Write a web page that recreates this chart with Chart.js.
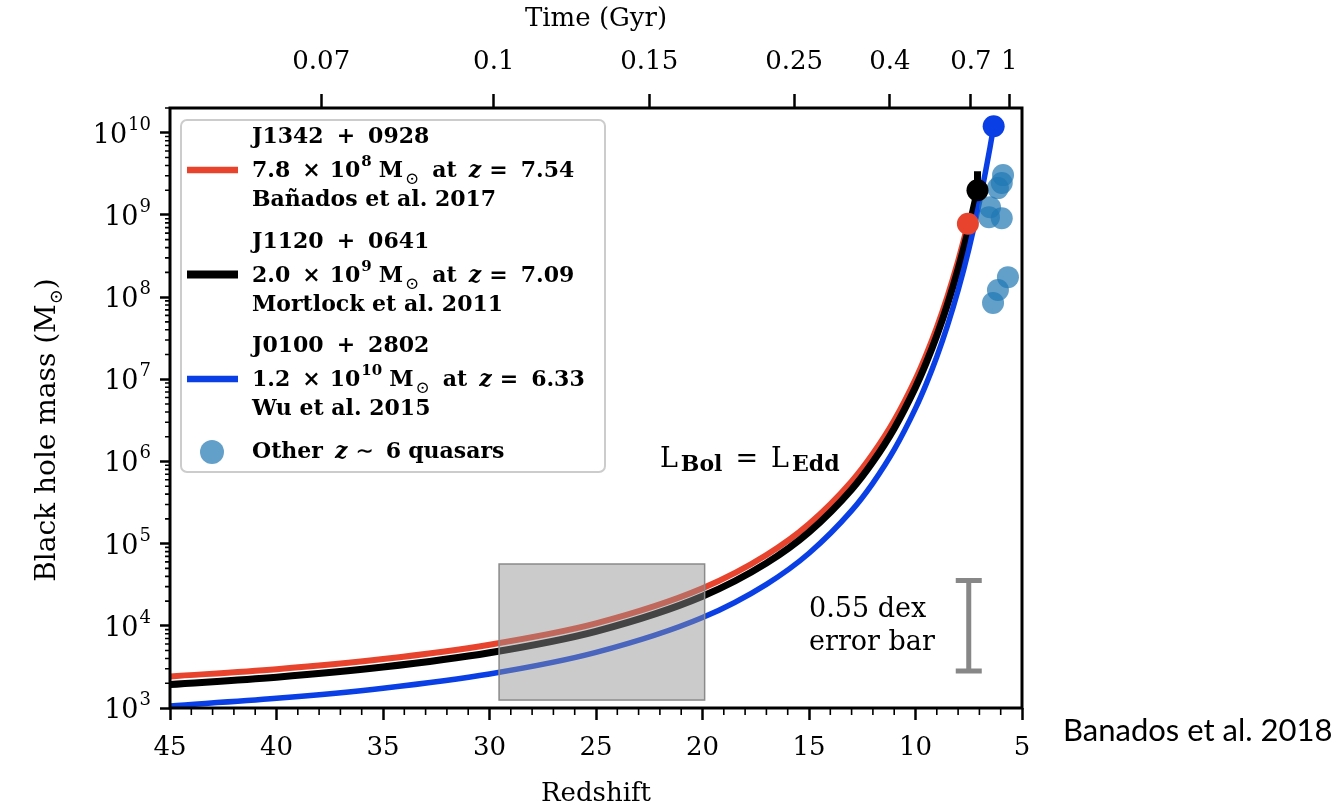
<!DOCTYPE html>
<html>
<head>
<meta charset="utf-8">
<title>Black hole growth</title>
<script src="https://cdn.jsdelivr.net/npm/chart.js@4/dist/chart.umd.min.js"></script>
<style>
  html, body { margin: 0; padding: 0; background: #fff; }
  canvas { display: block; }
</style>
</head>
<body>
<canvas id="bhChart" width="1339" height="810"></canvas>
<script>
// Eddington-limited growth tracks: redshift vs black hole mass (Msun)
const j1342Redshift = [45, 40, 35, 30, 25, 20, 17, 15, 13, 12, 11, 10, 9.5, 9, 8.5, 8, 7.75, 7.54];
const j1342Mass = [2.42e3, 2.97e3, 3.94e3, 5.89e3, 1.07e4, 2.86e4, 7.26e4, 1.73e5, 5.71e5, 1.24e6, 3.15e6, 1.0e7, 1.98e7, 4.26e7, 1.02e8, 2.75e8, 4.77e8, 7.8e8];

const j1120Redshift = [45, 40, 35, 30, 25, 20, 17, 15, 13, 12, 11, 10, 9.5, 9, 8.5, 8, 7.54, 7.3, 7.09];
const j1120Mass = [1.93e3, 2.37e3, 3.15e3, 4.70e3, 8.57e3, 2.29e4, 5.79e4, 1.38e5, 4.56e5, 9.9e5, 2.52e6, 8.0e6, 1.58e7, 3.40e7, 8.13e7, 2.19e8, 6.22e8, 1.14e9, 2.0e9];

const j0100Redshift = [45, 40, 35, 30, 25, 20, 17, 15, 13, 12, 11, 10, 9.5, 9, 8.5, 8, 7.5, 7, 6.7, 6.5, 6.33];
const j0100Mass = [1.06e3, 1.31e3, 1.74e3, 2.59e3, 4.74e3, 1.26e4, 3.20e4, 7.64e4, 2.52e5, 5.46e5, 1.39e6, 4.42e6, 8.73e6, 1.88e7, 4.49e7, 1.21e8, 3.79e8, 1.42e9, 3.49e9, 6.68e9, 1.2e10];

// The three record quasars
const quasarNames = ['J1342 + 0928', 'J1120 + 0641', 'J0100 + 2802'];
const quasarRefs = ['Bañados et al. 2017', 'Mortlock et al. 2011', 'Wu et al. 2015'];
const quasarRedshift = [7.54, 7.09, 6.33];
const quasarMass = [7.8e8, 2.0e9, 1.2e10];
const quasarColors = ['#e8442d', '#000000', '#0a3fe6'];
const j1120MassRange = [1.3e9, 3.4e9];

// Other z ~ 6 quasars
const otherRedshift = [5.89, 5.95, 6.13, 6.50, 6.55, 5.95, 5.66, 6.13, 6.36];
const otherMass = [3.05e9, 2.44e9, 2.12e9, 1.24e9, 9.4e8, 9.1e8, 1.75e8, 1.22e8, 8.5e7];

// Shaded seed region
const seedRedshift = [29.55, 19.9];
const seedMass = [1.25e3, 5.65e4];

// Typical mass uncertainty
const errorBarRedshift = 7.5;
const errorBarMass = 1.0e4;
const errorBarDex = 0.55;

// Axis ticks
const redshiftTicks = [45, 40, 35, 30, 25, 20, 15, 10, 5];
const massTickExponents = [3, 4, 5, 6, 7, 8, 9, 10];
const timeTickLabels = ['0.07', '0.1', '0.15', '0.25', '0.4', '0.7', '1'];
const timeTickRedshift = [37.9, 29.8, 22.5, 15.7, 11.2, 7.4, 5.6];

const SERIF = '"DejaVu Serif", "Liberation Serif", serif';

function toPoints(xs, ys) {
    return xs.map((x, i) => ({ x: x, y: ys[i] }));
}

// Draw a run of text pieces, each with its own size / offset / style / trailing gap
function drawPieces(ctx, x, y, pieces) {
    let cx = x;
    pieces.forEach(p => {
        ctx.font = (p.style || '') + ' ' + p.size + 'px ' + SERIF;
        ctx.fillText(p.text, cx, y + (p.dy || 0));
        cx += ctx.measureText(p.text).width + (p.gap || 0);
    });
    return cx;
}

function piecesWidth(ctx, pieces) {
    let w = 0;
    pieces.forEach(p => {
        ctx.font = (p.style || '') + ' ' + p.size + 'px ' + SERIF;
        w += ctx.measureText(p.text).width + (p.gap || 0);
    });
    return w;
}

const LEG = 22;

function namePieces(name) {
    const parts = name.split(' + ');
    return [
        { text: parts[0], size: LEG, style: 'bold', gap: 13 },
        { text: '+', size: LEG, style: 'bold', gap: 13 },
        { text: parts[1], size: LEG, style: 'bold' }
    ];
}

function massPieces(mass, z) {
    const exp = Math.floor(Math.log10(mass));
    const mant = (mass / Math.pow(10, exp)).toFixed(1);
    return [
        { text: mant, size: LEG, style: 'bold', gap: 12 },
        { text: '×', size: LEG, style: 'bold', gap: 9 },
        { text: '10', size: LEG, style: 'bold', gap: 1 },
        { text: String(exp), size: 15, style: 'bold', dy: -11, gap: 7 },
        { text: 'M', size: LEG, style: 'bold', gap: 2 },
        { text: '⊙', size: 17, dy: 7, gap: 13 },
        { text: 'at', size: LEG, style: 'bold', gap: 12 },
        { text: 'z', size: LEG, style: 'italic bold', gap: 8 },
        { text: '=', size: LEG, style: 'bold', gap: 13 },
        { text: z.toFixed(2), size: LEG, style: 'bold' }
    ];
}

const bhDecorations = {
    id: 'bhDecorations',
    beforeDatasetsDraw(chart) {
        const { ctx, scales: { x, y } } = chart;
        // J1120 mass uncertainty
        ctx.save();
        ctx.strokeStyle = '#000';
        ctx.lineWidth = 7;
        const px = x.getPixelForValue(quasarRedshift[1]);
        ctx.beginPath();
        ctx.moveTo(px, y.getPixelForValue(j1120MassRange[0]));
        ctx.lineTo(px, y.getPixelForValue(j1120MassRange[1]));
        ctx.stroke();
        ctx.restore();
    },
    afterDatasetsDraw(chart) {
        const { ctx, scales: { x, y } } = chart;
        ctx.save();
        // seed box
        const bx1 = x.getPixelForValue(seedRedshift[0]);
        const bx2 = x.getPixelForValue(seedRedshift[1]);
        const by1 = y.getPixelForValue(seedMass[1]);
        const by2 = y.getPixelForValue(seedMass[0]);
        ctx.fillStyle = 'rgba(145,145,145,0.47)';
        ctx.fillRect(bx1, by1, bx2 - bx1, by2 - by1);
        ctx.strokeStyle = '#8a8a8a';
        ctx.lineWidth = 1.5;
        ctx.strokeRect(bx1, by1, bx2 - bx1, by2 - by1);

        // error bar
        const ex = x.getPixelForValue(errorBarRedshift);
        const eTop = y.getPixelForValue(errorBarMass * Math.pow(10, errorBarDex));
        const eBot = y.getPixelForValue(errorBarMass / Math.pow(10, errorBarDex));
        ctx.strokeStyle = '#878787';
        ctx.lineWidth = 5;
        ctx.beginPath();
        ctx.moveTo(ex, eTop); ctx.lineTo(ex, eBot);
        ctx.moveTo(ex - 13, eTop); ctx.lineTo(ex + 13, eTop);
        ctx.moveTo(ex - 13, eBot); ctx.lineTo(ex + 13, eBot);
        ctx.stroke();
        ctx.restore();
    },
    afterDraw(chart) {
        const { ctx, chartArea: a, scales: { x, y } } = chart;
        ctx.save();
        ctx.fillStyle = '#000';
        ctx.textBaseline = 'alphabetic';
        ctx.textAlign = 'left';

        // minor ticks
        ctx.strokeStyle = '#000';
        ctx.lineWidth = 1.6;
        ctx.beginPath();
        for (let z = 6; z < 45; z++) {
            if (z % 5 === 0) continue;
            const px = x.getPixelForValue(z);
            ctx.moveTo(px, a.bottom); ctx.lineTo(px, a.bottom + 7);
        }
        massTickExponents.forEach(e => {
            for (let m = 2; m <= 9; m++) {
                const v = m * Math.pow(10, e);
                if (v > y.max) break;
                const py = y.getPixelForValue(v);
                ctx.moveTo(a.left - 5, py); ctx.lineTo(a.left, py);
            }
        });
        ctx.stroke();

        // frame
        ctx.lineWidth = 3;
        ctx.strokeRect(a.left, a.top, a.right - a.left, a.bottom - a.top);

        // y tick labels with superscripts
        massTickExponents.forEach(e => {
            const py = y.getPixelForValue(Math.pow(10, e));
            const pieces = [
                { text: '10', size: 27, gap: 1 },
                { text: String(e), size: 18, dy: -13 }
            ];
            const w = piecesWidth(ctx, pieces);
            drawPieces(ctx, a.left - 19 - w, py + 10, pieces);
        });

        // y title
        const titlePieces = [
            { text: 'Black hole mass (M', size: 28 },
            { text: '⊙', size: 18, dy: 7 },
            { text: ')', size: 28 }
        ];
        const tw = piecesWidth(ctx, titlePieces);
        ctx.save();
        ctx.translate(55, (a.top + a.bottom) / 2 + 22);
        ctx.rotate(-Math.PI / 2);
        drawPieces(ctx, -tw / 2, 0, titlePieces);
        ctx.restore();

        // Eddington label
        drawPieces(ctx, x.getPixelForValue(22.0), y.getPixelForValue(8.5e5), [
            { text: 'L', size: 27, gap: 3 },
            { text: 'Bol', size: 22, style: 'bold', dy: 4, gap: 13 },
            { text: '=', size: 27, gap: 13 },
            { text: 'L', size: 27, gap: 3 },
            { text: 'Edd', size: 22, style: 'bold', dy: 4 }
        ]);

        // error bar caption
        ctx.font = '27px ' + SERIF;
        const cx = x.getPixelForValue(15.0);
        ctx.fillText('0.55 dex', cx, y.getPixelForValue(errorBarMass * 1.28));
        ctx.fillText('error bar', cx, y.getPixelForValue(errorBarMass * 0.51));

        // legend
        const lx = a.left + 11, ly = a.top + 12, lw = 424, lh = 352;
        ctx.fillStyle = 'rgba(255,255,255,0.8)';
        ctx.strokeStyle = '#cccccc';
        ctx.lineWidth = 2;
        ctx.beginPath();
        ctx.roundRect(lx, ly, lw, lh, 6);
        ctx.fill();
        ctx.stroke();

        const textX = lx + 71;
        const widths = [6.5, 8, 6.5];
        quasarNames.forEach((name, i) => {
            const top = ly + 23 + i * 104.5;
            ctx.strokeStyle = quasarColors[i];
            ctx.lineWidth = widths[i];
            ctx.beginPath();
            ctx.moveTo(lx + 6, top + 27); ctx.lineTo(lx + 57, top + 27);
            ctx.stroke();
            ctx.fillStyle = '#000';
            drawPieces(ctx, textX, top, namePieces(name));
            drawPieces(ctx, textX, top + 34, massPieces(quasarMass[i], quasarRedshift[i]));
            drawPieces(ctx, textX, top + 63, [{ text: quasarRefs[i], size: LEG, style: 'bold' }]);
        });
        ctx.fillStyle = 'rgba(31,119,180,0.7)';
        ctx.beginPath();
        ctx.arc(lx + 31, ly + 332, 12, 0, Math.PI * 2);
        ctx.fill();
        ctx.fillStyle = '#000';
        drawPieces(ctx, textX, ly + 338, [
            { text: 'Other', size: LEG, style: 'bold', gap: 12 },
            { text: 'z', size: LEG, style: 'italic bold', gap: 8 },
            { text: '∼', size: LEG, style: 'bold', gap: 12 },
            { text: '6', size: LEG, style: 'bold', gap: 7 },
            { text: 'quasars', size: LEG, style: 'bold' }
        ]);

        // reference note
        ctx.font = '31px Lato, "Open Sans", sans-serif';
        ctx.fillText('Banados et al. 2018', 1063, 741);
        ctx.restore();
    }
};

new Chart(document.getElementById('bhChart'), {
    type: 'scatter',
    data: {
        datasets: [
            {
                data: toPoints(j1342Redshift, j1342Mass),
                showLine: true,
                borderColor: quasarColors[0],
                borderWidth: 6,
                pointRadius: 0,
                cubicInterpolationMode: 'monotone',
                order: 5
            },
            {
                data: toPoints(j1120Redshift, j1120Mass),
                showLine: true,
                borderColor: quasarColors[1],
                borderWidth: 7,
                pointRadius: 0,
                cubicInterpolationMode: 'monotone',
                order: 4
            },
            {
                data: toPoints(j0100Redshift, j0100Mass),
                showLine: true,
                borderColor: quasarColors[2],
                borderWidth: 5.5,
                pointRadius: 0,
                cubicInterpolationMode: 'monotone',
                order: 3
            },
            {
                data: toPoints(otherRedshift, otherMass),
                backgroundColor: 'rgba(31,119,180,0.7)',
                borderWidth: 0,
                pointRadius: 11,
                order: 2
            },
            {
                data: toPoints(quasarRedshift, quasarMass),
                backgroundColor: quasarColors,
                borderWidth: 0,
                pointRadius: 11,
                order: 1
            }
        ]
    },
    options: {
        responsive: false,
        animation: false,
        events: [],
        layout: { padding: { left: 0, right: 317, top: 0, bottom: 0 } },
        plugins: {
            legend: { display: false },
            tooltip: { enabled: false }
        },
        scales: {
            x: {
                type: 'linear',
                position: 'bottom',
                reverse: true,
                min: 5,
                max: 45,
                afterBuildTicks: s => { s.ticks = redshiftTicks.map(v => ({ value: v })); },
                ticks: {
                    autoSkip: false,
                    maxRotation: 0,
                    padding: 13,
                    color: '#000',
                    font: { family: SERIF, size: 26 },
                    callback: v => String(v)
                },
                grid: { drawOnChartArea: false, tickLength: 12, tickWidth: 2.5, tickColor: '#000' },
                border: { display: false },
                title: {
                    display: true,
                    text: 'Redshift',
                    color: '#000',
                    font: { family: SERIF, size: 26 },
                    padding: { top: 0, bottom: 0 }
                },
                afterFit: s => { s.height = 102; }
            },
            x2: {
                type: 'linear',
                position: 'top',
                reverse: true,
                min: 5,
                max: 45,
                afterBuildTicks: s => { s.ticks = timeTickRedshift.map(v => ({ value: v })); },
                ticks: {
                    autoSkip: false,
                    maxRotation: 0,
                    padding: 16,
                    color: '#000',
                    font: { family: SERIF, size: 26 },
                    callback: (v, i) => timeTickLabels[i]
                },
                grid: { drawOnChartArea: false, tickLength: 14, tickWidth: 2.5, tickColor: '#000' },
                border: { display: false },
                title: {
                    display: true,
                    text: 'Time (Gyr)',
                    color: '#000',
                    font: { family: SERIF, size: 26 },
                    padding: { top: 4, bottom: 0 }
                },
                afterFit: s => { s.height = 108; }
            },
            y: {
                type: 'logarithmic',
                min: 1e3,
                max: 2e10,
                afterBuildTicks: s => { s.ticks = massTickExponents.map(e => ({ value: Math.pow(10, e) })); },
                ticks: { display: false },
                grid: { drawOnChartArea: false, tickLength: 10, tickWidth: 2.5, tickColor: '#000' },
                border: { display: false },
                afterFit: s => { s.width = 170; }
            }
        }
    },
    plugins: [bhDecorations]
});
</script>
</body>
</html>
